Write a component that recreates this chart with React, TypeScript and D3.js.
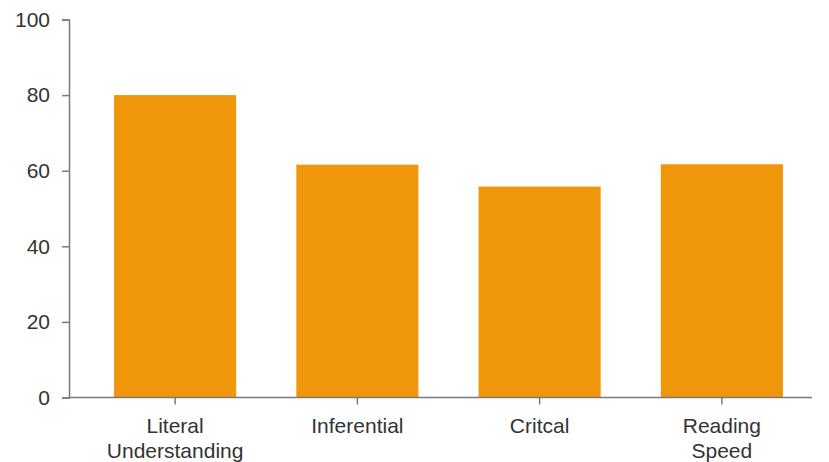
import React, { useEffect, useRef } from 'react';
import { axisBottom, axisLeft, scaleBand, scaleLinear, select } from 'd3';

const categories = ['Literal Understanding', 'Inferential', 'Critcal', 'Reading Speed'];
const labelLines = [['Literal', 'Understanding'], ['Inferential'], ['Critcal'], ['Reading', 'Speed']];
const scores = [80, 61.6, 55.8, 61.7];
const yTicks = [0, 20, 40, 60, 80, 100];

const W = 829;
const H = 462;
const font = 'Liberation Sans, Arial, sans-serif';

const App = () => {
  const svgRef = useRef<SVGSVGElement>(null);

  useEffect(() => {
    const svg = select(svgRef.current);
    svg.selectAll('*').remove();

    const x = scaleBand<string>().domain(categories).range([84, 813]).paddingInner(0.33).paddingOuter(0.165);
    const y = scaleLinear().domain([0, 100]).range([397.5, 19.5]);

    svg
      .selectAll('.bar')
      .data(scores)
      .join('rect')
      .attr('class', 'bar')
      .attr('x', (_, i) => x(categories[i]) as number)
      .attr('y', (d) => y(d))
      .attr('width', x.bandwidth())
      .attr('height', (d) => y(0) - y(d))
      .attr('fill', '#f0960a');

    // y axis
    const yAxis = svg.append('g').attr('transform', 'translate(69,0)').call(axisLeft(y).tickValues(yTicks).tickSize(7).tickPadding(12));
    yAxis.select('.domain').attr('stroke', '#7a7a7a').attr('stroke-width', 1.5);
    yAxis.selectAll('.tick line').attr('stroke', '#7a7a7a').attr('stroke-width', 1.5);
    yAxis.selectAll('.tick text').attr('fill', '#333').attr('font-size', 21).attr('font-family', font);

    // x axis
    const xAxis = svg.append('g').attr('transform', `translate(0,${y(0)})`).call(axisBottom(x).tickSize(7).tickFormat(() => ''));
    xAxis.select('.domain').remove();
    xAxis.selectAll('.tick line').attr('stroke', '#7a7a7a').attr('stroke-width', 1.5);
    xAxis.append('line').attr('x1', 69).attr('x2', 812).attr('stroke', '#7a7a7a').attr('stroke-width', 1.5);

    const labels = svg
      .append('g')
      .selectAll('text')
      .data(categories)
      .join('text')
      .attr('x', (d) => (x(d) as number) + x.bandwidth() / 2)
      .attr('y', 433)
      .attr('text-anchor', 'middle')
      .attr('fill', '#333')
      .attr('font-size', 21)
      .attr('font-family', font);
    labels
      .selectAll('tspan')
      .data((_, i) => labelLines[i])
      .join('tspan')
      .attr('x', function () {
        return (this as any).parentNode.getAttribute('x');
      })
      .attr('dy', (_, j) => (j === 0 ? 0 : 25))
      .text((d) => d);
  }, []);

  return <svg ref={svgRef} width={W} height={H} style={{ position: 'absolute', left: 0, top: 0 }} />;
};

export default App;
